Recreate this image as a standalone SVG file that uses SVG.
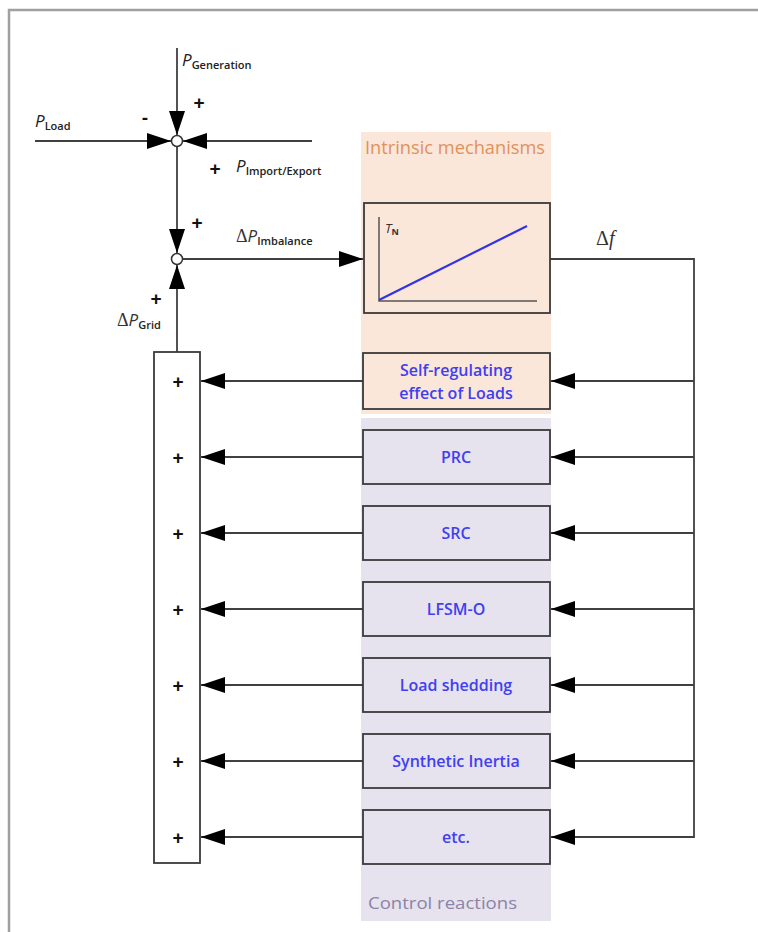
<svg xmlns="http://www.w3.org/2000/svg" width="758" height="932" viewBox="0 0 758 932">
  <style>
    .ln { stroke: #404040; stroke-width: 1.8; fill: none; }
    .box { stroke: #3a3a3a; stroke-width: 1.8; }
    .lbl { font-family: "Open Sans", "Liberation Sans", sans-serif; font-size: 16px; font-weight: 600; fill: #4040f0; text-anchor: middle; }
    .pv { font-family: "Open Sans", "Liberation Sans", sans-serif; font-style: italic; font-size: 17px; fill: #222; }
    .sub { font-family: "Open Sans", "Liberation Sans", sans-serif; font-size: 11px; fill: #222; font-style: normal; font-weight: 600; }
    .plus { font-family: "Liberation Sans", sans-serif; font-size: 19px; font-weight: bold; fill: #111; text-anchor: middle; }
  </style>
  <defs>
    <marker id="arr" viewBox="0 0 24 16" refX="24" refY="8" markerWidth="24" markerHeight="16" markerUnits="userSpaceOnUse" orient="auto">
      <path d="M0,0 L24,8 L0,16 Z" fill="#000"/>
    </marker>
  </defs>

  <rect width="758" height="932" fill="#fff"/>
  <!-- page frame -->
  <path d="M9,932 V10 H758" stroke="#a0a0a0" stroke-width="2.5" fill="none"/>

  <!-- shaded regions -->
  <rect x="361" y="132" width="190" height="282" fill="#fbe6da"/>
  <rect x="361" y="418" width="190" height="503" fill="#e6e2ee"/>
  <text x="365" y="154" font-family="Open Sans, Liberation Sans, sans-serif" font-size="18" fill="#e0925a" textLength="180" lengthAdjust="spacingAndGlyphs">Intrinsic mechanisms</text>
  <text x="368" y="909" font-family="Open Sans, Liberation Sans, sans-serif" font-size="17" fill="#8a84a6" textLength="149" lengthAdjust="spacingAndGlyphs">Control reactions</text>

  <!-- connectors -->
  <g id="connectors">
    <line class="ln" x1="177" y1="48" x2="177" y2="135" marker-end="url(#arr)"/>
    <line class="ln" x1="35" y1="141" x2="171" y2="141" marker-end="url(#arr)"/>
    <line class="ln" x1="312" y1="141" x2="183" y2="141" marker-end="url(#arr)"/>
    <line class="ln" x1="177" y1="147" x2="177" y2="253" marker-end="url(#arr)"/>
    <line class="ln" x1="183" y1="259" x2="363" y2="259" marker-end="url(#arr)"/>
    <line class="ln" x1="177" y1="352" x2="177" y2="265" marker-end="url(#arr)"/>
    <polyline class="ln" points="550,259 694,259 694,837 552,837"/>
    <g>
      <line class="ln" x1="694" y1="381" x2="551" y2="381" marker-end="url(#arr)"/>
      <line class="ln" x1="694" y1="457" x2="551" y2="457" marker-end="url(#arr)"/>
      <line class="ln" x1="694" y1="533" x2="551" y2="533" marker-end="url(#arr)"/>
      <line class="ln" x1="694" y1="609" x2="551" y2="609" marker-end="url(#arr)"/>
      <line class="ln" x1="694" y1="685" x2="551" y2="685" marker-end="url(#arr)"/>
      <line class="ln" x1="694" y1="761" x2="551" y2="761" marker-end="url(#arr)"/>
      <line class="ln" x1="694" y1="837" x2="551" y2="837" marker-end="url(#arr)"/>
    </g>
    <g>
      <line class="ln" x1="363" y1="381" x2="201" y2="381" marker-end="url(#arr)"/>
      <line class="ln" x1="363" y1="457" x2="201" y2="457" marker-end="url(#arr)"/>
      <line class="ln" x1="363" y1="533" x2="201" y2="533" marker-end="url(#arr)"/>
      <line class="ln" x1="363" y1="609" x2="201" y2="609" marker-end="url(#arr)"/>
      <line class="ln" x1="363" y1="685" x2="201" y2="685" marker-end="url(#arr)"/>
      <line class="ln" x1="363" y1="761" x2="201" y2="761" marker-end="url(#arr)"/>
      <line class="ln" x1="363" y1="837" x2="201" y2="837" marker-end="url(#arr)"/>
    </g>
  </g>

  <!-- summing junctions -->
  <g id="sum1">
    <circle cx="177" cy="141" r="5.5" fill="#fff" stroke="#333" stroke-width="1.5"/>
    <text class="pv" x="182" y="66">P<tspan class="sub" dy="3">Generation</tspan></text>
    <text class="pv" x="35" y="127">P<tspan class="sub" dy="3">Load</tspan></text>
    <text class="plus" x="145" y="124">-</text>
    <text class="plus" x="199" y="109">+</text>
    <text class="plus" x="215" y="175">+</text>
    <text class="pv" x="236" y="172">P<tspan class="sub" dy="3">Import/Export</tspan></text>
  </g>
  <g id="sum2">
    <circle cx="177" cy="259" r="5.5" fill="#fff" stroke="#333" stroke-width="1.5"/>
    <text class="plus" x="197" y="229">+</text>
    <text x="236" y="242" font-family="Liberation Serif, serif" font-size="18" fill="#333">Δ<tspan font-family="Open Sans, Liberation Sans, sans-serif" font-style="italic" font-size="17">P</tspan><tspan class="sub" dy="3">Imbalance</tspan></text>
    <text class="plus" x="156" y="305">+</text>
    <text x="117" y="326" font-family="Liberation Serif, serif" font-size="18" fill="#333">Δ<tspan font-family="Open Sans, Liberation Sans, sans-serif" font-style="italic" font-size="17">P</tspan><tspan class="sub" dy="3">Grid</tspan></text>
  </g>

  <!-- grid inertia block -->
  <g id="inertia">
    <rect class="box" x="364" y="203" width="186" height="110" fill="#fbe6da"/>
    <polyline points="379,217 379,301 537,301" stroke="#555" stroke-width="1.5" fill="none"/>
    <line x1="379" y1="300" x2="527" y2="226" stroke="#3535e0" stroke-width="2.2"/>
    <text x="385" y="233" font-family="Open Sans, Liberation Sans, sans-serif" font-style="italic" font-size="13" fill="#333">T<tspan font-size="9" font-weight="bold" font-style="normal" dy="2">N</tspan></text>
    <text x="596" y="245" font-family="Liberation Serif, serif" font-size="20" fill="#333">Δ<tspan font-style="italic">f</tspan></text>
  </g>

  <!-- reaction blocks -->
  <g id="self-regulating">
    <rect class="box" x="363" y="353" width="187" height="56" fill="#fbe6da"/>
    <text class="lbl" x="456" y="376">Self-regulating</text>
    <text class="lbl" x="456" y="399">effect of Loads</text>
  </g>
  <g id="prc">
    <rect class="box" x="363" y="430" width="187" height="54" fill="#e6e2ee"/>
    <text class="lbl" x="456" y="463">PRC</text>
  </g>
  <g id="src">
    <rect class="box" x="363" y="506" width="187" height="54" fill="#e6e2ee"/>
    <text class="lbl" x="456" y="539">SRC</text>
  </g>
  <g id="lfsm-o">
    <rect class="box" x="363" y="582" width="187" height="54" fill="#e6e2ee"/>
    <text class="lbl" x="456" y="615">LFSM-O</text>
  </g>
  <g id="load-shedding">
    <rect class="box" x="363" y="658" width="187" height="54" fill="#e6e2ee"/>
    <text class="lbl" x="456" y="691">Load shedding</text>
  </g>
  <g id="synthetic-inertia">
    <rect class="box" x="363" y="734" width="187" height="54" fill="#e6e2ee"/>
    <text class="lbl" x="456" y="767">Synthetic Inertia</text>
  </g>
  <g id="etc">
    <rect class="box" x="363" y="810" width="187" height="54" fill="#e6e2ee"/>
    <text class="lbl" x="456" y="843">etc.</text>
  </g>

  <!-- sum of control contributions -->
  <g id="sum-column">
    <rect class="box" x="154" y="352" width="46" height="511" fill="#fff"/>
    <text class="plus" x="178" y="388">+</text>
    <text class="plus" x="178" y="464">+</text>
    <text class="plus" x="178" y="540">+</text>
    <text class="plus" x="178" y="616">+</text>
    <text class="plus" x="178" y="692">+</text>
    <text class="plus" x="178" y="768">+</text>
    <text class="plus" x="178" y="844">+</text>
  </g>
</svg>
